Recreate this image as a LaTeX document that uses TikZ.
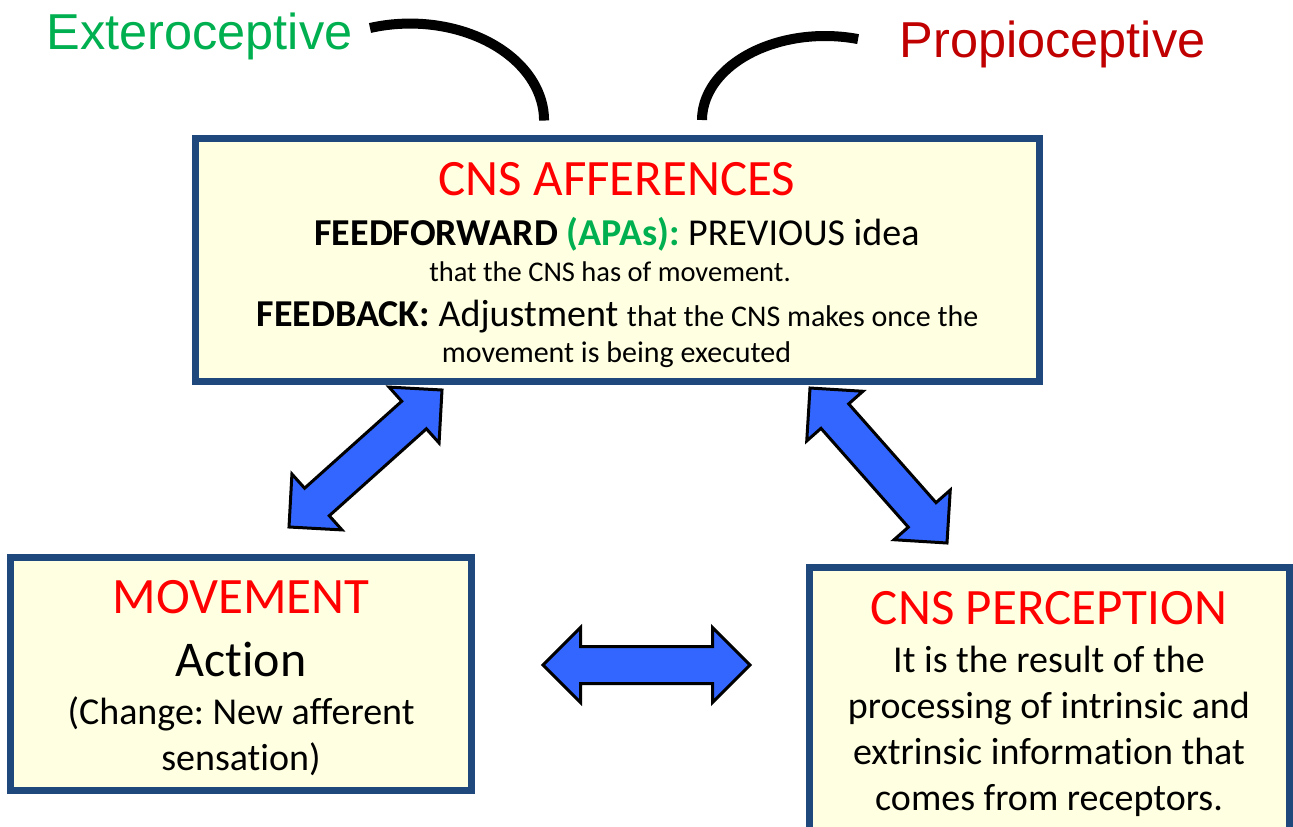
\documentclass[tikz,border=0pt]{standalone}
\usepackage{fontspec}
\setmainfont{Carlito}[Ligatures=NoCommon]
\newfontfamily\arialfont{Liberation Sans}
\usepackage{xcolor}
\usepackage{tikz}
\usetikzlibrary{shapes.arrows, calc}
\frenchspacing

\definecolor{boxblue}{RGB}{31,73,125}
\definecolor{boxfill}{RGB}{255,255,225}
\definecolor{titlered}{RGB}{255,0,0}
\definecolor{darkred}{RGB}{192,0,0}
\definecolor{apagreen}{RGB}{0,176,80}
\definecolor{arrowblue}{RGB}{51,102,255}

\tikzset{
    panel/.style={rectangle, draw=boxblue, line width=7pt, fill=boxfill, inner sep=0pt},
    title/.style={anchor=base, text=titlered, font=\fontsize{51}{51}\selectfont},
    body/.style={anchor=base, font=\fontsize{38}{38}\selectfont},
    small/.style={anchor=base, font=\fontsize{28.5}{28.5}\selectfont},
    sense/.style={anchor=base, font=\arialfont\fontsize{50.5}{50.5}\selectfont},
    blockarrow/.style={double arrow, draw=black, line width=3pt, fill=arrowblue,
        inner xsep=0pt, inner ysep=17pt, double arrow head extend=19pt, minimum width=0pt},
    curve/.style={line width=10pt}
}

% fat double arrow between two named points
\newcommand{\bigarrow}[3]{%
    \path let \p1=($(#2)-(#1)$), \n1={veclen(\x1,\y1)}, \n2={atan2(\y1,\x1)} in
        node[blockarrow, minimum height=\n1, rotate=\n2] (#3) at ($(#1)!0.5!(#2)$) {};}

\begin{document}
\begin{tikzpicture}[x=1pt, y=-1pt]
    \useasboundingbox (0,0) rectangle (1293,827);
    \clip (0,0) rectangle (1293,827);

    % boxes
    \node (aff) at (617,259.5) [panel, minimum width=844pt, minimum height=243pt] {};
    \node (mov) at (241,673.5) [panel, minimum width=461pt, minimum height=233pt] {};
    \node (per) at (1049.25,733.5) [panel, minimum width=479.5pt, minimum height=333pt] {};

    % top labels
    \node (ext) at (199.5,49) [sense, text=apagreen] {Exteroceptive};
    \node (pro) at (1052.5,57) [sense, text=darkred] {Propioceptive};

    \coordinate (extcurve) at (370,28);
    \coordinate (procurve) at (702,120);
    \draw [curve] (extcurve) arc[start angle=107.4, end angle=0, x radius=134pt, y radius=97pt];
    \draw [curve] (procurve) arc[start angle=180, end angle=74.4, x radius=123pt, y radius=84pt];

    % CNS afferences
    \node (afftitle) at (617,195) [title] {CNS AFFERENCES};
    \node (ffwd) at (617,245) [body] {\textbf{FEEDFORWARD} \textcolor{apagreen}{\textbf{(APAs):}} PREVIOUS idea};
    \node (ffwdtxt) at (610,281) [small] {that the CNS has of movement.};
    \node (fback) at (617.5,326) [body] {\textbf{FEEDBACK:} Adjustment {\fontsize{30}{30}\selectfont that the CNS makes once the}};
    \node (fbacktxt) at (616.5,362) [small, font=\fontsize{30}{30}\selectfont] {movement is being executed};

    % movement
    \node (movtitle) at (241,613) [title] {MOVEMENT};
    \node (action) at (241,676) [anchor=base, font=\fontsize{50}{50}\selectfont] {Action};
    \node (movtxt) at (241,724) [body] {(Change: New afferent};
    \node (movtxtb) at (241,770) [body] {sensation)};

    % perception
    \node (pertitle) at (1049,624) [title] {CNS PERCEPTION};
    \node (pera) at (1049,672) [body] {It is the result of the};
    \node (perb) at (1049,718) [body] {processing of intrinsic and};
    \node (perc) at (1049,764) [body] {extrinsic information that};
    \node (perd) at (1049,810) [body] {comes from receptors.};

    % arrows
    \coordinate (movtip) at (289,527);
    \coordinate (afftipl) at (442,390);
    \coordinate (afftipr) at (810,388);
    \coordinate (pertip) at (947,543);
    \coordinate (movtipr) at (543,665);
    \coordinate (pertipl) at (750,665);
    \bigarrow{movtip}{afftipl}{armleft}
    \bigarrow{afftipr}{pertip}{armright}
    \bigarrow{movtipr}{pertipl}{armmid}
\end{tikzpicture}
\end{document}
